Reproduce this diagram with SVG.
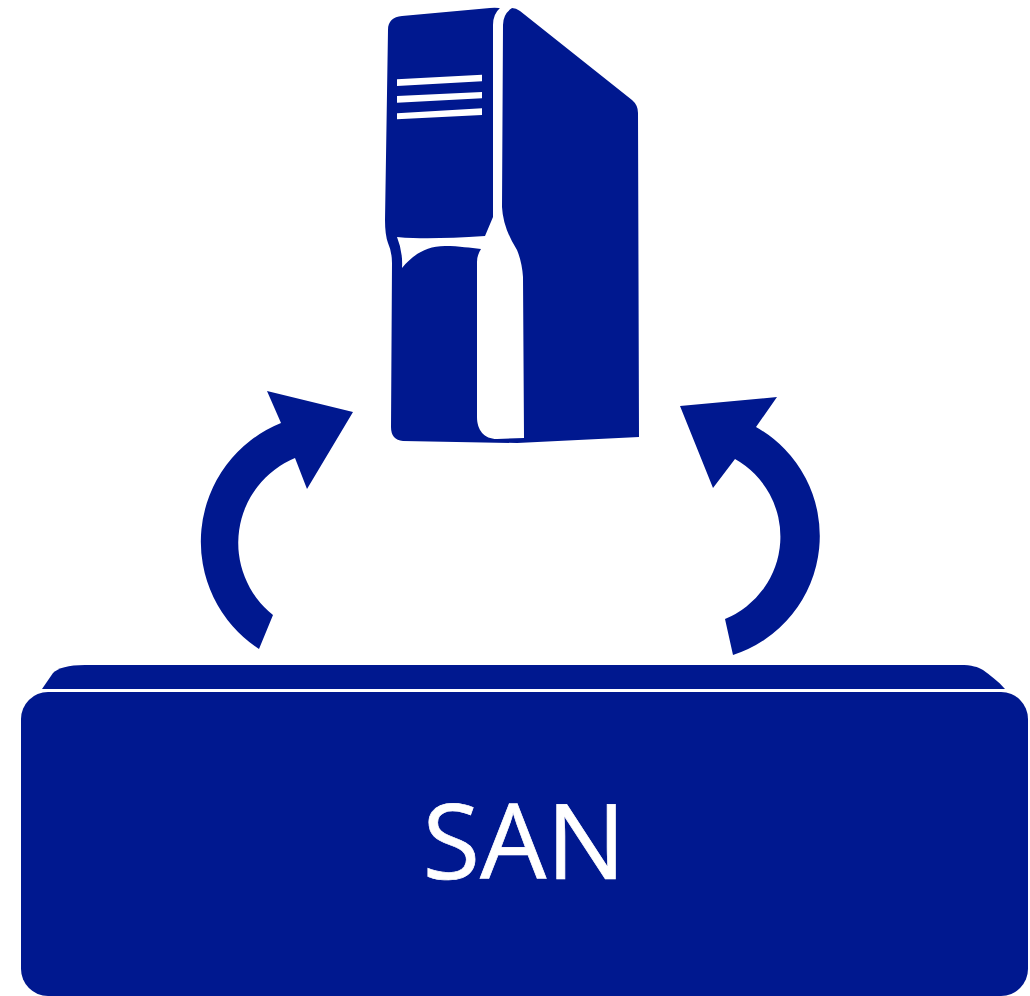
<svg xmlns="http://www.w3.org/2000/svg" width="1030" height="996" viewBox="0 0 1030 996">
<style>
.b{fill:#00188f}
.w{fill:#fff}
.t{fill:#fff;stroke:#fff;stroke-width:.7px;font-family:"Open Sans","Noto Sans","Liberation Sans",sans-serif;font-size:105px}
</style>
<rect width="1030" height="996" fill="#fff"/>
<g id="server">
<path class="b" d="M388 30C388 21 393 17 402 16L490 8Q497 7 503 9L512 8Q516 8 520 11L632 100Q638 105 638 113L639 437L517 443L403 441Q391 440 391 427L392 263Q392 252 388 243Q385 235 385 220Z"/>
<path class="w" d="M500 8Q493 14 493 25L493 217L485 236Q440 239 413 238Q405 238 397 237Q403 252 402 268C412 256 425 246 445 246C460 246 470 248 481 249Q477 255 477 262L477 417C477 430 484 439 497 439L524 438L523 277Q522 262 517 250Q503 228 502 207L503 25Q503 14 512 8Z"/>
<path class="w" d="M397 79.3L482 74.7V81.3L397 86ZM397 96L482 92V98.3L397 102.7ZM397 113.3L482 108.3V115L397 119.3Z"/>
</g>
<g id="connectors">
<path id="arrow-left" class="b" d="M267 391L353 412L307 489L295 458A92 92 0 0 0 273 615L259 649A128 128 0 0 1 281 423Z"/>
<path id="arrow-right" class="b" d="M680 406L777 397L756 427A125 125 0 0 1 733 655L725 619A89 89 0 0 0 735 459L713 488Z"/>
</g>
<g id="san">
<path class="b" d="M42 689L53 673C58 668 68 665 85 665L960 665C972 665 978 667 983 670C990 675 998 681 1005 689Z"/>
<rect class="b" x="21" y="692" width="1007" height="304" rx="27"/>
<text class="t" x="524" y="879" text-anchor="middle">SAN</text>
</g>
</svg>
